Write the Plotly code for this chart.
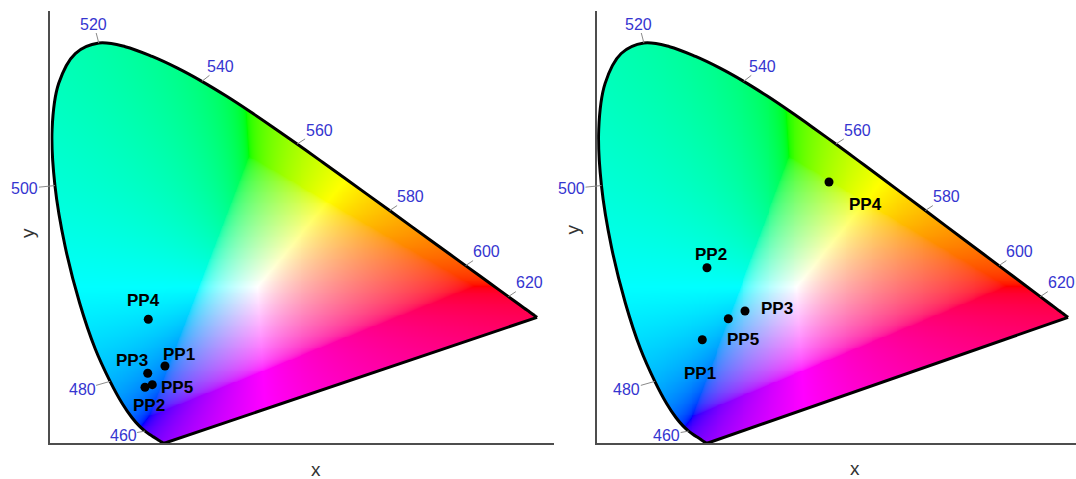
import numpy as np
import zlib
import struct
import base64
import plotly.graph_objects as go

# ---------------- data ----------------
# CIE 1931 2-degree spectral locus chromaticity coordinates, 380-700 nm every 5 nm
wavelengths = list(range(380, 705, 5))
locus_x = [0.1741, 0.1740, 0.1738, 0.1736, 0.1733, 0.1730, 0.1726, 0.1721, 0.1714, 0.1703,
           0.1689, 0.1669, 0.1644, 0.1611, 0.1566, 0.1510, 0.1440, 0.1355, 0.1241, 0.1096,
           0.0913, 0.0687, 0.0454, 0.0235, 0.0082, 0.0039, 0.0139, 0.0389, 0.0743, 0.1142,
           0.1547, 0.1929, 0.2296, 0.2658, 0.3016, 0.3373, 0.3731, 0.4087, 0.4441, 0.4788,
           0.5125, 0.5448, 0.5752, 0.6029, 0.6270, 0.6482, 0.6658, 0.6801, 0.6915, 0.7006,
           0.7079, 0.7140, 0.7190, 0.7230, 0.7260, 0.7283, 0.7300, 0.7311, 0.7320, 0.7327,
           0.7334, 0.7340, 0.7344, 0.7346, 0.7347]
locus_y = [0.0050, 0.0050, 0.0049, 0.0049, 0.0048, 0.0048, 0.0048, 0.0048, 0.0051, 0.0058,
           0.0069, 0.0086, 0.0109, 0.0138, 0.0177, 0.0227, 0.0297, 0.0399, 0.0578, 0.0868,
           0.1327, 0.2007, 0.2950, 0.4127, 0.5384, 0.6548, 0.7502, 0.8120, 0.8338, 0.8262,
           0.8059, 0.7816, 0.7543, 0.7243, 0.6923, 0.6589, 0.6245, 0.5896, 0.5547, 0.5202,
           0.4866, 0.4544, 0.4242, 0.3965, 0.3725, 0.3514, 0.3340, 0.3197, 0.3083, 0.2993,
           0.2920, 0.2859, 0.2809, 0.2770, 0.2740, 0.2717, 0.2700, 0.2689, 0.2680, 0.2673,
           0.2666, 0.2660, 0.2656, 0.2654, 0.2653]

label_wavelengths = [460, 480, 500, 520, 540, 560, 580, 600, 620]

point_names = ["PP1", "PP2", "PP3", "PP4", "PP5"]
left_x = [0.1740, 0.1439, 0.1480, 0.1489, 0.1549]
left_y = [0.1645, 0.1204, 0.1494, 0.2613, 0.1258]
right_x = [0.1652, 0.1725, 0.2317, 0.3625, 0.2057]
right_y = [0.2190, 0.3682, 0.2785, 0.5458, 0.2625]

# ---------------- styles ----------------
W, H = 1076, 479
wl_offsets = {460: (-22, 4), 480: (-28, 8), 500: (-30, 3), 520: (-5, -19), 540: (19, -15),
              560: (22, -14), 580: (21, -14), 600: (21, -14), 620: (21, -14)}
left_lbl_off = {"PP1": (14, -12), "PP2": (4, 18), "PP3": (-16, -13), "PP4": (-5, -19), "PP5": (25, 3)}
right_lbl_off = {"PP1": (-2, 34), "PP2": (4, -13), "PP3": (32, -2), "PP4": (37, 23), "PP5": (15, 21)}
WL_COLOR = "#3535d0"
AXIS_COLOR = "#4d4d4d"
FONT = "Arial, Liberation Sans, sans-serif"

# ---------------- colour fill image ----------------
step_x, step_y = 0.0015, 0.0019
nx, ny = int(0.762 / step_x), int(0.902 / step_y)
gx = (np.arange(nx) + 0.5) * step_x
gy = (np.arange(ny) + 0.5) * step_y
XX, YY = np.meshgrid(gx, gy)  # row 0 = lowest y
X = XX / YY
Z = (1 - XX - YY) / YY
Yc = np.ones_like(X)
R = 3.2406 * X - 1.5372 * Yc - 0.4986 * Z
G = -0.9689 * X + 1.8758 * Yc + 0.0415 * Z
B = 0.0557 * X - 0.2040 * Yc + 1.0570 * Z
rgb = np.stack([R, G, B], axis=-1)
mn = rgb.min(axis=-1, keepdims=True)
rgb = np.where(mn < 0, rgb - mn, rgb)          # desaturate out-of-gamut colours by adding white
rgb = rgb / np.maximum(rgb.max(axis=-1, keepdims=True), 1e-9)
rgb = np.clip(rgb, 0, 1)
rgb = np.where(rgb <= 0.0031308, 12.92 * rgb, 1.055 * np.power(rgb, 1 / 2.4) - 0.055)

# smooth outline (Catmull-Rom through the locus points) used only for the fill mask
P = np.column_stack([locus_x, locus_y])
dense = []
for i in range(len(P) - 1):
    p0 = P[max(i - 1, 0)]
    p1 = P[i]
    p2 = P[i + 1]
    p3 = P[min(i + 2, len(P) - 1)]
    for t in np.linspace(0, 1, 8, endpoint=False):
        t2, t3 = t * t, t * t * t
        dense.append(0.5 * ((2 * p1) + (-p0 + p2) * t + (2 * p0 - 5 * p1 + 4 * p2 - p3) * t2
                            + (-p0 + 3 * p1 - 3 * p2 + p3) * t3))
dense.append(P[-1])
dense = np.array(dense)
poly_x, poly_y = dense[:, 0], dense[:, 1]

px = XX.ravel()
py = YY.ravel()
inside = np.zeros(px.shape, dtype=bool)
n = len(poly_x)
with np.errstate(divide="ignore", invalid="ignore"):
    for i in range(n):
        x1, y1 = poly_x[i], poly_y[i]
        x2, y2 = poly_x[(i + 1) % n], poly_y[(i + 1) % n]
        if y2 != y1:
            cond = (y1 > py) != (y2 > py)
            xint = (x2 - x1) * (py - y1) / (y2 - y1) + x1
            inside ^= cond & (px < xint)
inside = inside.reshape(XX.shape)

rgba = np.zeros((ny, nx, 4), dtype=np.uint8)
rgba[..., :3] = np.round(rgb * 255).astype(np.uint8)
rgba[..., 3] = np.where(inside, 255, 0).astype(np.uint8)


def png_uri(arr):
    h, w, _ = arr.shape
    raw = b"".join(b"\x00" + arr[i].tobytes() for i in range(h))

    def chunk(t, d):
        return struct.pack(">I", len(d)) + t + d + struct.pack(">I", zlib.crc32(t + d) & 0xFFFFFFFF)

    png = (b"\x89PNG\r\n\x1a\n" + chunk(b"IHDR", struct.pack(">IIBBBBB", w, h, 8, 6, 0, 0, 0))
           + chunk(b"IDAT", zlib.compress(raw, 9)) + chunk(b"IEND", b""))
    return "data:image/png;base64," + base64.b64encode(png).decode()


img_src = png_uri(rgba)

# ---------------- figure ----------------
fig = go.Figure()

panels = [
    dict(xa="x", ya="y", px=left_x, py=left_y, off=left_lbl_off),
    dict(xa="x2", ya="y2", px=right_x, py=right_y, off=right_lbl_off),
]

for p in panels:
    fig.add_trace(go.Image(source=img_src, x0=step_x / 2, dx=step_x, y0=step_y / 2, dy=step_y,
                           xaxis=p["xa"], yaxis=p["ya"], hoverinfo="skip"))
    # spectral locus (smooth) and the straight purple line
    fig.add_trace(go.Scatter(x=locus_x, y=locus_y, mode="lines",
                             line=dict(color="black", width=3, shape="spline", smoothing=1.0),
                             xaxis=p["xa"], yaxis=p["ya"], hoverinfo="skip", showlegend=False))
    fig.add_trace(go.Scatter(x=[locus_x[-1], locus_x[0]], y=[locus_y[-1], locus_y[0]], mode="lines",
                             line=dict(color="black", width=3),
                             xaxis=p["xa"], yaxis=p["ya"], hoverinfo="skip", showlegend=False))
    fig.add_trace(go.Scatter(x=p["px"], y=p["py"], mode="markers",
                             marker=dict(color="black", size=9),
                             xaxis=p["xa"], yaxis=p["ya"], showlegend=False))
    for name, vx, vy in zip(point_names, p["px"], p["py"]):
        ox, oy = p["off"][name]
        fig.add_annotation(x=vx, y=vy, xref=p["xa"], yref=p["ya"], text="<b>%s</b>" % name,
                           showarrow=False, xshift=ox, yshift=-oy,
                           font=dict(family=FONT, size=17, color="black"))
    for wl in label_wavelengths:
        k = wavelengths.index(wl)
        ox, oy = wl_offsets[wl]
        fig.add_annotation(x=locus_x[k], y=locus_y[k], xref=p["xa"], yref=p["ya"], text=str(wl),
                           showarrow=True, arrowhead=0, arrowwidth=1, arrowcolor="#8a8a8a",
                           ax=ox, ay=oy, standoff=0, borderpad=0,
                           font=dict(family=FONT, size=16, color=WL_COLOR))

# axis titles
for tx, ty, txt, ang in [(315.5, 469, "x", 0), (855, 468, "x", 0), (27, 233, "y", -90), (572.6, 230, "y", -90)]:
    fig.add_annotation(x=tx / W, y=1 - ty / H, xref="paper", yref="paper", text=txt, showarrow=False,
                       textangle=ang, xanchor="center", yanchor="middle",
                       font=dict(family=FONT, size=19, color="#333333"))

ax_common = dict(showgrid=False, zeroline=False, showticklabels=False, ticks="",
                 showline=True, linecolor=AXIS_COLOR, linewidth=2, mirror=False, autorange=False)

y_lo, y_hi = 0.004, 0.9
y_dom = [1 - (445.4 - y_lo * 482.6) / H, 1 - (445.4 - y_hi * 482.6) / H]
x_lo = 0.0015
left_dom = [(49.5 + x_lo * 663.6) / W, (49.5 + 0.76 * 663.6) / W]
right_hi = (W - 596.2) / 642.2
right_dom = [(596.2 + x_lo * 642.2) / W, 1.0]

fig.update_layout(
    width=W, height=H, margin=dict(l=0, r=0, t=0, b=0),
    paper_bgcolor="white", plot_bgcolor="white", showlegend=False,
    xaxis=dict(domain=left_dom, range=[x_lo, 0.76], anchor="y", **ax_common),
    yaxis=dict(domain=y_dom, range=[y_lo, y_hi], anchor="x", scaleanchor=False, **ax_common),
    xaxis2=dict(domain=right_dom, range=[x_lo, right_hi], anchor="y2", **ax_common),
    yaxis2=dict(domain=y_dom, range=[y_lo, y_hi], anchor="x2", scaleanchor=False, **ax_common),
)

fig.write_html("out.html")
